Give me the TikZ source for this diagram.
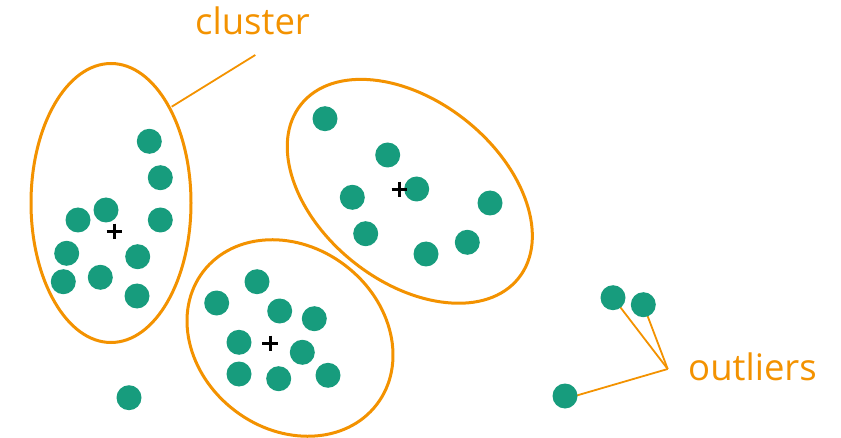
\documentclass[tikz,border=0pt]{standalone}
\usepackage{fontspec}
\setmainfont{Open Sans}
\usetikzlibrary{shapes.geometric}
\definecolor{fgreen}{HTML}{179C7D}
\definecolor{forange}{HTML}{F39200}
\begin{document}
\begin{tikzpicture}[x=1pt,y=1pt,
  clus/.style={draw=forange, line width=3pt, ellipse, inner sep=0pt},
  pt/.style={circle, fill=fgreen, minimum size=25pt, inner sep=0pt},
  ctr/.style={inner sep=0pt, minimum size=15pt},
  plusline/.style={draw=black, line width=3pt},
  lbl/.style={text=forange, font=\fontsize{36.5}{40}\selectfont, inner sep=0pt, anchor=base west},
  lead/.style={draw=forange, line width=1.8pt}]
\useasboundingbox (0,0) rectangle (841,437);

% cluster ellipses
\node[clus, minimum width=160pt, minimum height=279pt] (e1) at (111,234) {};
\node[clus, minimum width=278.4pt, minimum height=180.8pt, rotate=-38.6] (e2) at (409.8,245.7) {};
\node[clus, minimum width=218.6pt, minimum height=182.4pt, rotate=-37.4] (e3) at (290,99) {};

% labels
\node[lbl] (lc) at (195,402) {cluster};
\node[lbl] (lo) at (688,57) {outliers};

% leader lines
\coordinate (lcs) at (255.3,382);
\coordinate (lce) at (171.7,330.3);
\draw[lead] (lcs) -- (lce);
\coordinate (j) at (667.7,68);

% cluster 1 points
\node[pt] (a1) at (149.3,295.7) {};
\node[pt] (a2) at (160.3,259.3) {};
\node[pt] (a3) at (160.3,217) {};
\node[pt] (a4) at (106,227) {};
\node[pt] (a5) at (78,217) {};
\node[pt] (a6) at (66.7,183.7) {};
\node[pt] (a7) at (63.3,155.3) {};
\node[pt] (a8) at (100.3,159.7) {};
\node[pt] (a9) at (137.7,180.3) {};
\node[pt] (a10) at (137,141) {};

% cluster 2 points
\node[pt] (b1) at (325,318.3) {};
\node[pt] (b2) at (387.7,282) {};
\node[pt] (b3) at (352.3,239.7) {};
\node[pt] (b4) at (416.7,248) {};
\node[pt] (b5) at (490,234) {};
\node[pt] (b6) at (365.7,203.3) {};
\node[pt] (b7) at (426,183) {};
\node[pt] (b8) at (467.3,194.7) {};

% cluster 3 points
\node[pt] (d1) at (257,155.3) {};
\node[pt] (d2) at (216.7,134) {};
\node[pt] (d3) at (279.7,126) {};
\node[pt] (d4) at (314.3,118.3) {};
\node[pt] (d5) at (239,94.7) {};
\node[pt] (d6) at (302.3,84.7) {};
\node[pt] (d7) at (239,63) {};
\node[pt] (d8) at (278.7,58.3) {};
\node[pt] (d9) at (328,61.7) {};

% outliers
\draw[lead] (j) -- (613,139.3) coordinate (o1c);
\draw[lead] (j) -- (643.3,132.3) coordinate (o2c);
\draw[lead] (j) -- (575,41) coordinate (o3e);
\node[pt] (o1) at (o1c) {};
\node[pt] (o2) at (o2c) {};
\node[pt] (o3) at (565,41) {};
\node[pt] (o4) at (129,39.3) {};

% centroids
\node[ctr] (c1) at (114.2,205.7) {};
\draw[plusline] (c1.west) -- (c1.east) (c1.north) -- (c1.south);
\node[ctr] (c2) at (399.3,247.7) {};
\draw[plusline] (c2.west) -- (c2.east) (c2.north) -- (c2.south);
\node[ctr] (c3) at (270,93.7) {};
\draw[plusline] (c3.west) -- (c3.east) (c3.north) -- (c3.south);
\end{tikzpicture}
\end{document}
